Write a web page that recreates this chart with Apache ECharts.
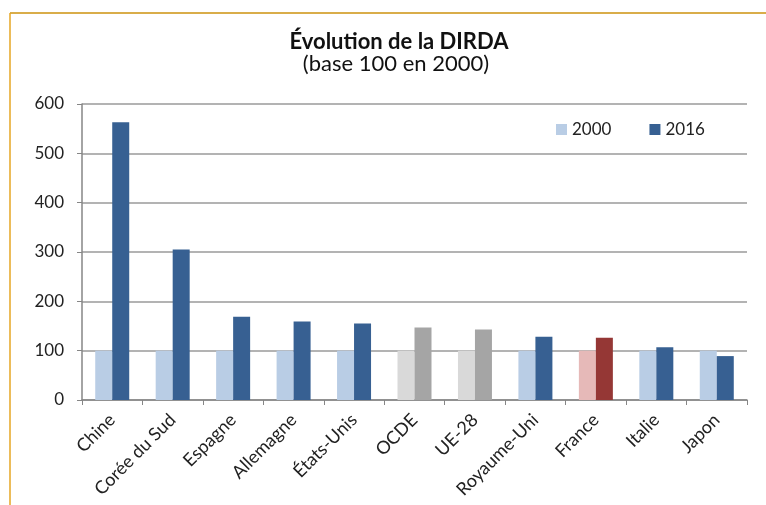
<!DOCTYPE html>
<html>
<head>
<meta charset="utf-8">
<script src="https://cdn.jsdelivr.net/npm/echarts@6/dist/echarts.min.js"></script>
<style>
  html, body { margin: 0; padding: 0; background: #fff; }
  #chart { width: 766px; height: 505px; }
</style>
</head>
<body>
<div id="chart"></div>
<script>
// données (base 100 en 2000)
var categories = ['Chine', 'Corée du Sud', 'Espagne', 'Allemagne', 'États-Unis', 'OCDE', 'UE-28', 'Royaume-Uni', 'France', 'Italie', 'Japon']
var values2000 = [100, 100, 100, 100, 100, 100, 100, 100, 100, 100, 100]
var values2016 = [563, 305, 169, 159, 155, 147, 143, 128, 126, 107, 89]
var yTicks = [0, 100, 200, 300, 400, 500, 600]

// couleurs particulières pour certains pays
var specialColors = {
  'OCDE': ['#d9d9d9', '#a5a5a5'],
  'UE-28': ['#d9d9d9', '#a5a5a5'],
  'France': ['#e6b9b8', '#953735']
}
var colors = ['#b9cde5', '#376092']
var font = 'Lato, "Open Sans", sans-serif'

function buildData (vals, idx) {
  return vals.map(function (v, i) {
    var c = specialColors[categories[i]]
    return c ? { value: v, itemStyle: { color: c[idx] } } : v
  })
}

var myChart = echarts.init(document.getElementById('chart'))
var option = {
  animation: false,
  textStyle: { fontFamily: font },
  title: [
    {
      text: 'Évolution de la DIRDA',
      left: 394, top: 26, textAlign: 'center',
      textStyle: { fontSize: 22, fontWeight: 'bold', color: '#111', fontFamily: font }
    },
    {
      text: '(base 100 en 2000)',
      left: 391, top: 48, textAlign: 'center',
      textStyle: { fontSize: 22, fontWeight: 'normal', color: '#111', fontFamily: font }
    }
  ],
  legend: {
    left: 551, top: 116,
    itemWidth: 11, itemHeight: 11, itemGap: 38,
    icon: 'rect',
    textStyle: { fontSize: 17, color: '#222', fontFamily: font },
    data: ['2000', '2016']
  },
  grid: { left: 82, right: 19, top: 104, bottom: 105 },
  xAxis: {
    type: 'category',
    data: categories,
    axisLine: { lineStyle: { color: '#868686', width: 1.5 } },
    axisTick: { show: true, length: 5, lineStyle: { color: '#868686' } },
    axisLabel: { rotate: 45, fontSize: 18, color: '#222', margin: 17, interval: 0, fontFamily: font }
  },
  yAxis: {
    type: 'value',
    min: yTicks[0], max: yTicks[yTicks.length - 1], interval: 100,
    axisLine: { show: true, lineStyle: { color: '#868686', width: 1.5 } },
    axisTick: { show: true, length: 5, inside: false, lineStyle: { color: '#868686' } },
    axisLabel: { fontSize: 17, color: '#222', margin: 18, fontFamily: font },
    splitLine: { lineStyle: { color: '#9a9a9a', width: 1.5 } }
  },
  series: [
    {
      name: '2000', type: 'bar', data: buildData(values2000, 0),
      itemStyle: { color: colors[0] },
      barWidth: 17, barGap: '0%'
    },
    {
      name: '2016', type: 'bar', data: buildData(values2016, 1),
      itemStyle: { color: colors[1] },
      barWidth: 17, barGap: '0%'
    }
  ],
  graphic: [
    { type: 'line', shape: { x1: 10, y1: 13, x2: 766, y2: 13 }, style: { stroke: '#d9ad4a', lineWidth: 2 } },
    { type: 'line', shape: { x1: 10, y1: 13, x2: 10, y2: 505 }, style: { stroke: '#e6a623', lineWidth: 1.5 } }
  ]
}
myChart.setOption(option)
</script>
</body>
</html>
